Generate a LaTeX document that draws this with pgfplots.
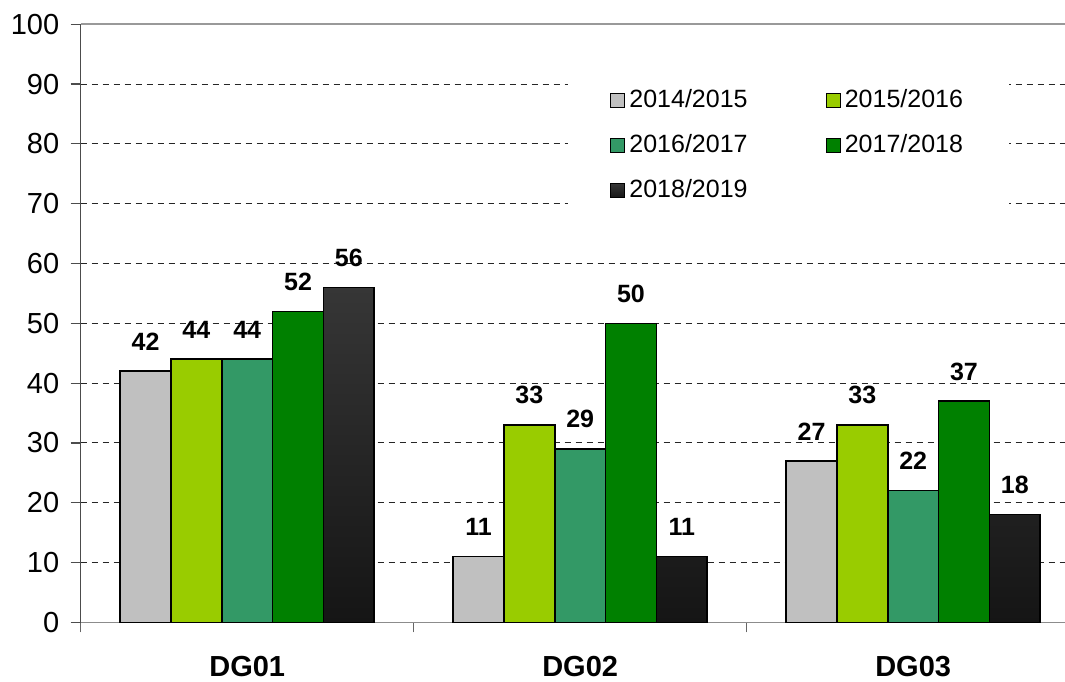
\documentclass[border=0pt]{standalone}
\usepackage{fontspec}
\setmainfont{Liberation Sans}
\usepackage{pgfplots}
\pgfplotsset{compat=1.18}
\definecolor{cA}{HTML}{C0C0C0}
\definecolor{cB}{HTML}{99CC00}
\definecolor{cC}{HTML}{339966}
\definecolor{cD}{HTML}{008000}
\definecolor{cE1}{HTML}{363636}
\definecolor{cE2}{HTML}{151515}
\begin{document}
\begin{tikzpicture}[x=1pt,y=1pt]
\useasboundingbox (0,0) rectangle (1065,681);
\begin{axis}[
  at={(80.7pt,58.7pt)}, anchor=south west,
  scale only axis, width=984.3pt, height=598pt,
  xmin=-0.5, xmax=2.456, ymin=0, ymax=100,
  ybar=0pt, bar width=0.1526,
  axis x line*=bottom, axis y line*=left,
  x axis line style={draw=black!45, line width=1.5pt},
  y axis line style={draw=black!70, line width=1.5pt},
  ytick={0,10,...,90},
  extra y ticks={100},
  extra y tick style={major grid style={solid, draw=black!40, line width=2pt}},
  ymajorgrids,
  major grid style={draw=black!85, line width=1pt, dash pattern=on 6pt off 5pt},
  tick align=outside, major tick length=10pt,
  ytick style={draw=black!70, line width=1.2pt},
  xtick={0,1,2}, xticklabels={DG01,DG02,DG03},
  major x tick style={draw=none},
  minor xtick={-0.5,0.5,1.5},
  minor tick length=10pt,
  minor x tick style={draw=black!60, line width=1.2pt},
  xticklabel style={font=\bfseries\fontsize{29}{34}\selectfont, anchor=base, yshift=-44pt},
  yticklabel style={font=\fontsize{29}{34}\selectfont, xshift=-8pt},
  /pgf/number format/assume math mode=true,
  nodes near coords,
  every node near coord/.append style={font=\bfseries\fontsize{25}{30}\selectfont, anchor=south, inner sep=0pt, yshift=20pt, black},
  legend columns=2,
  legend style={at={(0.4951,0.9152)}, anchor=north west, draw=none, fill=white,
    inner xsep=42pt, inner ysep=14pt,
    font=\fontsize{25}{30}\selectfont,
    nodes={inner xsep=4pt, inner ysep=0pt, text height=18pt, text depth=5pt},
    row sep=22pt,
    /tikz/every even column/.append style={column sep=74pt}},
  legend image code/.code={\draw[#1, line width=1.2pt] (0pt,-7pt) rectangle (14pt,7pt);},
  clip=false,
]
\addplot[fill=cA, draw=black, line width=1.5pt] coordinates {(0,42) (1,11) (2,27)};
\addlegendentry{2014/2015}
\addplot[fill=cB, draw=black, line width=1.5pt] coordinates {(0,44) (1,33) (2,33)};
\addlegendentry{2015/2016}
\addplot[fill=cC, draw=black, line width=1.5pt] coordinates {(0,44) (1,29) (2,22)};
\addlegendentry{2016/2017}
\addplot[fill=cD, draw=black, line width=1.5pt] coordinates {(0,52) (1,50) (2,37)};
\addlegendentry{2017/2018}
\addplot[top color=cE1, bottom color=cE2, draw=black, line width=1.5pt] coordinates {(0,56) (1,11) (2,18)};
\addlegendentry{2018/2019}
\end{axis}
\end{tikzpicture}
\end{document}
